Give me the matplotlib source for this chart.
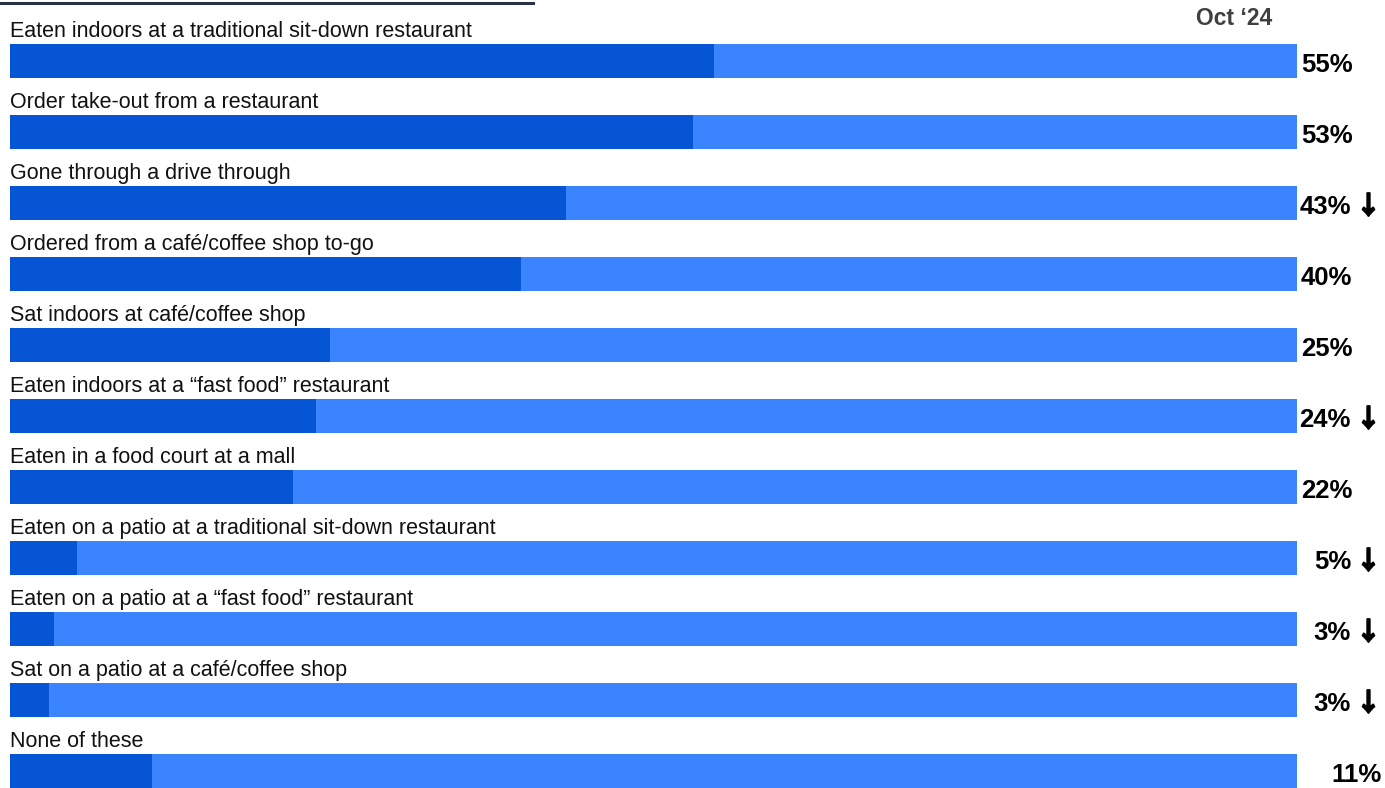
import matplotlib.pyplot as plt
import matplotlib.patheffects as pe
from matplotlib.lines import Line2D

categories = [
    'Eaten indoors at a traditional sit-down restaurant',
    'Order take-out from a restaurant',
    'Gone through a drive through',
    'Ordered from a café/coffee shop to-go',
    'Sat indoors at café/coffee shop',
    'Eaten indoors at a \u201cfast food\u201d restaurant',
    'Eaten in a food court at a mall',
    'Eaten on a patio at a traditional sit-down restaurant',
    'Eaten on a patio at a \u201cfast food\u201d restaurant',
    'Sat on a patio at a café/coffee shop',
    'None of these',
]
values = [54.7, 53.1, 43.2, 39.7, 24.9, 23.8, 22.0, 5.2, 3.4, 3.0, 11.0]
labels = ['55%', '53%', '43%', '40%', '25%', '24%', '22%', '5%', '3%', '3%', '11%']
down = [False, False, True, False, False, True, False, True, True, True, False]

W, H = 1385, 788
DARK = '#0555d5'
LIGHT = '#3a84ff'
FONT = ['Liberation Sans', 'DejaVu Sans']

def px(x):
    # figure pixel -> percent scale of the bar axis
    return (x - 10) / 1287 * 100

fig = plt.figure(figsize=(W / 100, H / 100), dpi=100)
ax = fig.add_axes([10 / W, 0, 1287 / W, 1])
ax.set_xlim(0, 100)
ax.set_ylim((H - 61) / 71, -61 / 71)
ax.axis('off')

n = len(categories)
ys = list(range(n))
ax.barh(ys, [100] * n, height=0.465, color=LIGHT, linewidth=0)
ax.barh(ys, values, height=0.465, color=DARK, linewidth=0)

thick = [pe.withStroke(linewidth=1.3, foreground='black')]
for i, cat in enumerate(categories):
    ax.text(0, i - 0.34, cat, ha='left', va='baseline', fontsize=15.5,
            color='#111111', family=FONT)
    kw = dict(va='baseline', fontsize=18.5, fontweight='bold', color='black',
              family=FONT, clip_on=False)
    if down[i]:
        ax.text(px(1351), i + 0.155, labels[i], ha='right', **kw)
        ax.text(px(1381), i + 0.155, '\u2193', ha='right', va='baseline',
                fontsize=18, fontweight='bold', color='black',
                family=['Noto Sans CJK SC', 'DejaVu Sans'], clip_on=False,
                path_effects=thick)
    elif labels[i] == '11%':
        ax.text(px(1382), i + 0.155, labels[i], ha='right', **kw)
    else:
        ax.text(px(1301), i + 0.155, labels[i], ha='left', **kw)

fig.add_artist(Line2D([0, 533 / W], [1 - 3 / H, 1 - 3 / H], color='#2b3245',
                      linewidth=2.2))
fig.text(1234 / W, 1 - 25 / H, 'Oct \u201824', ha='center', va='baseline',
         fontsize=16.5, fontweight='bold', color='#404040', family=FONT)

fig.savefig('out.png', dpi=100)
